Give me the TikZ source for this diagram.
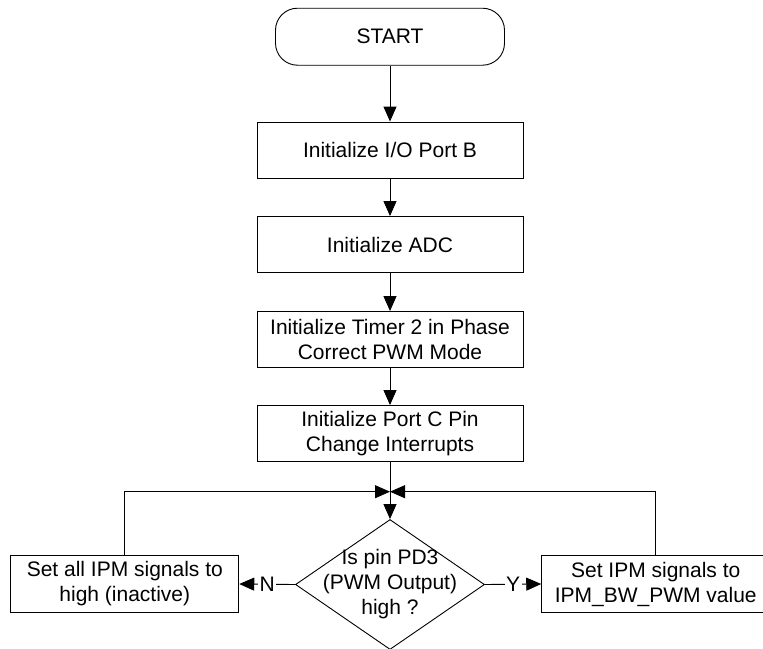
\documentclass[tikz,border=0pt]{standalone}
\usepackage{fontspec}
\setmainfont{Liberation Sans}
\usetikzlibrary{shapes.geometric,arrows.meta}
\begin{document}
\begin{tikzpicture}[x=1pt,y=-1pt,
  every node/.style={font=\fontsize{21}{25}\selectfont},
  proc/.style={draw, line width=0.9pt, minimum width=266pt, minimum height=56pt, align=center, inner sep=0pt},
  term/.style={draw, rounded corners=22pt, minimum width=229pt, minimum height=57pt, line width=0.9pt},
  side/.style={draw, minimum width=228pt, minimum height=57pt, align=center, inner sep=0pt, line width=0.9pt},
  decision/.style={diamond, draw, minimum width=189pt, minimum height=130pt, inner sep=0pt, line width=0.9pt},
  flow/.style={line width=0.9pt, -{Triangle[length=15pt,width=13pt]}},
  lbl/.style={fill=white, inner sep=1.5pt}
]
\useasboundingbox (0,0) rectangle (763,648);
\node[term] (start) at (390,36.7) {START};
\node[proc] (b1) at (390,150) {Initialize I/O Port B};
\node[proc] (b2) at (390,244.5) {Initialize ADC};
\node[proc] (b3) at (390,339.5) {Initialize Timer 2 in Phase\\Correct PWM Mode};
\node[proc] (b4) at (390,433.5) {Initialize Port C Pin\\Change Interrupts};
\coordinate (j) at (390,491.7);
\node[decision] (dec) at (390,584.5) {};
\node[align=center] (dect) at (dec.center) {Is pin PD3\\(PWM Output)\\high ?};
\node[side] (L) at (124.8,584) {Set all IPM signals to\\high (inactive)};
\node[side] (R) at (655.7,584) {Set IPM signals to\\IPM\_BW\_PWM value};
\draw[flow] (start) -- (b1);
\draw[flow] (b1) -- (b2);
\draw[flow] (b2) -- (b3);
\draw[flow] (b3) -- (b4);
\draw[flow] (b4) -- (dec.north);
\draw[flow] (L.north) |- (j);
\draw[flow] (R.north) |- (j);
\draw[flow] (dec.west) -- node[lbl] (n) {N} (L.east);
\draw[flow] (dec.east) -- node[lbl] (y) {Y} (R.west);
\end{tikzpicture}
\end{document}
